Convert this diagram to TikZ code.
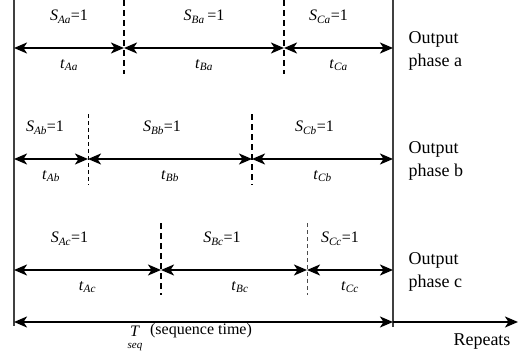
\documentclass[tikz,border=0pt]{standalone}
\usepackage{fontspec}
\setmainfont{Liberation Serif}
\usetikzlibrary{arrows.meta}
\newcommand{\symsub}[2]{\textit{#1}\textsubscript{\textit{#2}}}

\begin{document}
\begin{tikzpicture}[x=1pt,y=-1pt,
 font=\fontsize{16}{19}\selectfont,
 bound/.style={line width=1.3pt,black!75},
 slot/.style={line width=1.3pt,dash pattern=on 6pt off 4pt},
 thinslot/.style={line width=1pt,dash pattern=on 4pt off 3pt},
 span/.style={{Stealth[length=13pt,width=11pt,inset=3.5pt]}-{Stealth[length=13pt,width=11pt,inset=3.5pt]},line width=1.8pt},
 sdur/.style={midway,yshift=31pt},
 tdur/.style={midway,yshift=-17pt},
 phase/.style={anchor=west,align=left,font=\fontsize{18}{23}\selectfont}]
 \useasboundingbox (0,0) rectangle (520,356);
 \coordinate (Ltop) at (14,0);
 \coordinate (Lbot) at (14,326);
 \coordinate (Rtop) at (393,0);
 \coordinate (Rbot) at (393,327);
 \draw[bound] (Ltop) -- (Lbot);
 \draw[bound] (Rtop) -- (Rbot);

 \coordinate (a0) at (14,48);
 \coordinate (a1) at (124,48);
 \coordinate (a2) at (284,48);
 \coordinate (a3) at (393,48);
 \draw[slot] (a1) ++(0,-48) -- ++(0,74);
 \draw[slot] (a2) ++(0,-48) -- ++(0,74);
 \draw[span] (a0) -- node (Saa) [sdur] {\symsub{S}{Aa}=1} node (taa) [tdur] {\symsub{t}{Aa}} (a1);
 \draw[span] (a1) -- node (Sba) [sdur] {\symsub{S}{Ba}\,=1} node (tba) [tdur] {\symsub{t}{Ba}} (a2);
 \draw[span] (a2) -- node (Sca) [sdur,xshift=-10pt] {\symsub{S}{Ca}=1} node (tca) [tdur] {\symsub{t}{Ca}} (a3);
 \node (outa) [phase] at (405,51) {Output\\phase a};

 \coordinate (b0) at (14,159);
 \coordinate (b1) at (88,159);
 \coordinate (b2) at (252,159);
 \coordinate (b3) at (393,159);
 \draw[thinslot] (b1) ++(0,-45) -- ++(0,71);
 \draw[slot] (b2) ++(0,-45) -- ++(0,71);
 \draw[span] (b0) -- node (Sab) [sdur,xshift=-6pt] {\symsub{S}{Ab}=1} node (tab) [tdur] {\symsub{t}{Ab}} (b1);
 \draw[span] (b1) -- node (Sbb) [sdur,xshift=-8pt] {\symsub{S}{Bb}=1} node (tbb) [tdur] {\symsub{t}{Bb}} (b2);
 \draw[span] (b2) -- node (Scb) [sdur,xshift=-8pt] {\symsub{S}{Cb}=1} node (tcb) [tdur] {\symsub{t}{Cb}} (b3);
 \node (outb) [phase] at (405,161) {Output\\phase b};

 \coordinate (c0) at (14,270);
 \coordinate (c1) at (161,270);
 \coordinate (c2) at (307,270);
 \coordinate (c3) at (393,270);
 \draw[slot] (c1) ++(0,-47) -- ++(0,72);
 \draw[thinslot,black!70] (c2) ++(0,-47) -- ++(0,72);
 \draw[span] (c0) -- node (Sac) [sdur,xshift=-18pt] {\symsub{S}{Ac}=1} node (tac) [tdur] {\symsub{t}{Ac}} (c1);
 \draw[span] (c1) -- node (Sbc) [sdur,xshift=-12pt] {\symsub{S}{Bc}=1} node (tbc) [tdur,xshift=6pt] {\symsub{t}{Bc}} (c2);
 \draw[span] (c2) -- node (Scc) [sdur,xshift=-10pt] {\symsub{S}{Cc}=1} node (tcc) [tdur] {\symsub{t}{Cc}} (c3);
 \node (outc) [phase] at (405,272) {Output\\phase c};

 \coordinate (s0) at (14,322);
 \coordinate (s1) at (393,322);
 \coordinate (s2) at (518,322);
 \draw[span] (s0) -- (s1);
 \draw[line width=1.8pt,-{Stealth[length=13pt,width=11pt,inset=3.5pt]}] (s1) -- (s2);
 \node (T) at (135,331) {\textit{T}};
 \node (seq) at (135,347) {\fontsize{11}{12}\selectfont\textit{seq}};
 \node (seqtime) at (201,331) {(sequence time)};
 \node (rep) at (482,342) {\fontsize{18}{20}\selectfont Repeats};
\end{tikzpicture}
\end{document}
